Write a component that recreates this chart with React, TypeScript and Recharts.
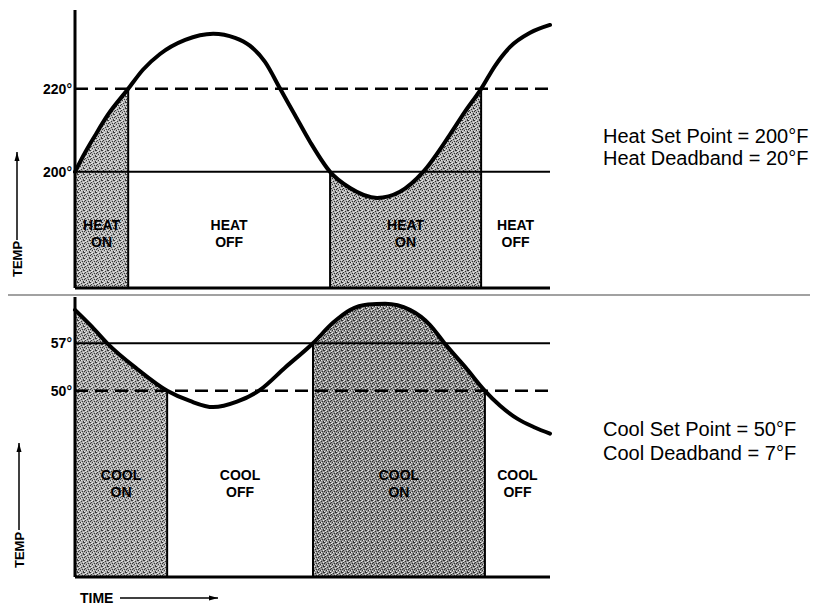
import React from 'react';
import { Area, ComposedChart, Line, ReferenceDot, ReferenceLine, XAxis, YAxis } from 'recharts';

// heating cycle (top panel): time runs 0..100, temperature in °F
const heatTime = [
  0, 2.1, 4.2, 6.9, 11.2, 14.3, 17.9, 23.2, 29.1, 33.7, 36.8, 40.0, 43.2, 46.3, 49.5, 53.7,
  57.9, 63.6, 68.4, 73.3, 78.9, 82.1, 85.5, 88.4, 91.6, 95.8, 100,
];
const heatTemp = [
  200, 204.6, 208.7, 213.7, 220, 224.6, 228.4, 231.8, 233.3, 232.3, 230.4, 226.5, 220, 213.7,
  207.2, 200, 196.1, 193.7, 195.2, 200, 208.9, 214.5, 220, 225.5, 230.1, 233.5, 235.4,
];
const heatSwitchTime = [11.2, 53.7, 85.5];
const heatSwitchTemp = [220, 200, 220];
const heatStates = [['HEAT', 'ON'], ['HEAT', 'OFF'], ['HEAT', 'ON'], ['HEAT', 'OFF']];
const heatTicks = [200, 220];
const heatNotes = ['Heat Set Point = 200°F', 'Heat Deadband = 20°F'];

// cooling cycle (bottom panel)
const coolTime = [
  0, 3.6, 6.9, 13.1, 19.4, 24.2, 29.1, 34.1, 38.9, 44.2, 50.1, 54.3, 57.9, 61.7, 65.3, 70.5,
  74.7, 77.9, 82.5, 86.3, 89.5, 93.1, 96.8, 100,
];
const coolTemp = [
  61.9, 59.4, 56.9, 53.2, 50, 48.5, 47.6, 48.4, 50.1, 53.4, 57, 60.0, 61.9, 62.7, 62.8, 61.9,
  59.7, 56.9, 53.2, 50, 47.8, 45.9, 44.6, 43.7,
];
const coolSwitchTime = [19.4, 50.1, 86.3];
const coolSwitchTemp = [50, 57, 50];
const coolStates = [['COOL', 'ON'], ['COOL', 'OFF'], ['COOL', 'ON'], ['COOL', 'OFF']];
const coolTicks = [50, 57];
const coolNotes = ['Cool Set Point = 50°F', 'Cool Deadband = 7°F'];

const FONT = '"Liberation Sans", Arial, Helvetica, sans-serif';

// halftone-ish speckle so the "on" regions look like the printed screen
const darkDots = [[0, 0], [3, 1], [1, 2], [4, 3], [2, 4], [5, 5], [0, 3], [5, 0]];
const lightDots = [[2, 0], [5, 2], [0, 5], [3, 4], [1, 1]];

function Speckle({ id, base, dot }: { id: string; base: string; dot: string }) {
  return (
    <pattern id={id} width={6} height={6} patternUnits="userSpaceOnUse">
      <rect width={6} height={6} fill={base} />
      {darkDots.map(([x, y]) => (
        <rect key={`d${x}${y}`} x={x} y={y} width={1} height={1} fill={dot} />
      ))}
      {lightDots.map(([x, y]) => (
        <rect key={`l${x}${y}`} x={x} y={y} width={1} height={1} fill="#e8e8e8" />
      ))}
    </pattern>
  );
}

type PanelProps = {
  id: string;
  time: number[];
  temp: number[];
  switchTime: number[];
  switchTemp: number[];
  states: string[][];
  ticks: number[];
  domain: [number, number];
  solidAt: number;
  dashedAt: number;
  labelTemp: number;
  shades: string[];
  top: number;
  marginTop: number;
  marginBottom: number;
};

function Panel(p: PanelProps) {
  const bounds = [0, ...p.switchTime, 100];
  const rows = p.time.map((t, i) => ({
    t,
    temp: p.temp[i],
    on0: t >= bounds[0] && t <= bounds[1] ? p.temp[i] : null,
    on1: t >= bounds[2] && t <= bounds[3] ? p.temp[i] : null,
  }));

  return (
    <div style={{ position: 'absolute', left: 0, top: p.top }}>
      <ComposedChart
        width={819}
        height={300}
        data={rows}
        margin={{ top: p.marginTop, right: 269, bottom: p.marginBottom, left: 15 }}
      >
        <defs>
          <Speckle id={`${p.id}-s0`} base={p.shades[0]} dot="#3a3a3a" />
          <Speckle id={`${p.id}-s1`} base={p.shades[1]} dot="#303030" />
        </defs>
        <XAxis
          dataKey="t"
          type="number"
          domain={[0, 100]}
          tick={false}
          tickLine={false}
          height={1}
          axisLine={{ stroke: '#000', strokeWidth: 3 }}
        />
        <YAxis
          type="number"
          domain={p.domain}
          ticks={p.ticks}
          width={60}
          tickSize={2}
          tickMargin={1}
          tickLine={false}
          axisLine={{ stroke: '#000', strokeWidth: 3 }}
          tickFormatter={(v) => `${v}°`}
          tick={{ fill: '#000', fontSize: 14, fontWeight: 700, fontFamily: FONT }}
        />
        <Area
          dataKey="on0"
          type="monotone"
          stroke="none"
          fill={`url(#${p.id}-s0)`}
          fillOpacity={1}
          dot={false}
          activeDot={false}
          isAnimationActive={false}
        />
        <Area
          dataKey="on1"
          type="monotone"
          stroke="none"
          fill={`url(#${p.id}-s1)`}
          fillOpacity={1}
          dot={false}
          activeDot={false}
          isAnimationActive={false}
        />
        <ReferenceLine y={p.solidAt} stroke="#000" strokeWidth={2} />
        <ReferenceLine y={p.dashedAt} stroke="#000" strokeWidth={2.5} strokeDasharray="13 7" />
        {p.switchTime.map((t, i) => (
          <ReferenceLine
            key={`sw${t}`}
            segment={[
              { x: t, y: p.domain[0] },
              { x: t, y: p.switchTemp[i] },
            ]}
            stroke="#000"
            strokeWidth={2}
          />
        ))}
        <Line
          dataKey="temp"
          type="monotone"
          stroke="#000"
          strokeWidth={4}
          strokeLinecap="round"
          dot={false}
          activeDot={false}
          isAnimationActive={false}
        />
        {p.states.map((lines, i) => (
          <ReferenceDot
            key={`st${i}`}
            x={(bounds[i] + bounds[i + 1]) / 2}
            y={p.labelTemp}
            r={0}
            shape={(s: any) => (
              <text
                x={s.cx}
                y={s.cy}
                textAnchor="middle"
                fontFamily={FONT}
                fontWeight={700}
                fontSize={14}
                fill="#000"
              >
                <tspan x={s.cx} dy={-2}>
                  {lines[0]}
                </tspan>
                <tspan x={s.cx} dy={17}>
                  {lines[1]}
                </tspan>
              </text>
            )}
          />
        ))}
      </ComposedChart>
    </div>
  );
}

function Arrow({ x1, y1, x2, y2 }: { x1: number; y1: number; x2: number; y2: number }) {
  const up = x1 === x2;
  const head = up
    ? `${x2},${y2} ${x2 - 2.5},${y2 + 9} ${x2 + 2.5},${y2 + 9}`
    : `${x2},${y2} ${x2 - 9},${y2 - 2.5} ${x2 - 9},${y2 + 2.5}`;
  return (
    <g>
      <line x1={x1} y1={y1} x2={x2} y2={y2} stroke="#000" strokeWidth={1.5} />
      <polygon points={head} fill="#000" />
    </g>
  );
}

export default function App() {
  return (
    <div
      style={{
        position: 'absolute',
        left: 0,
        top: 0,
        width: 819,
        height: 606,
        background: '#fff',
        overflow: 'hidden',
      }}
    >
      <Panel
        id="heat"
        time={heatTime}
        temp={heatTemp}
        switchTime={heatSwitchTime}
        switchTemp={heatSwitchTemp}
        states={heatStates}
        ticks={heatTicks}
        domain={[172, 239]}
        solidAt={200}
        dashedAt={220}
        labelTemp={185.5}
        shades={['#b6b6b6', '#b0b0b0']}
        top={0}
        marginTop={10}
        marginBottom={11}
      />
      <Panel
        id="cool"
        time={coolTime}
        temp={coolTemp}
        switchTime={coolSwitchTime}
        switchTemp={coolSwitchTemp}
        states={coolStates}
        ticks={coolTicks}
        domain={[22.6, 63.8]}
        solidAt={57}
        dashedAt={50}
        labelTemp={36.6}
        shades={['#acacac', '#939393']}
        top={290}
        marginTop={7}
        marginBottom={12}
      />
      <svg
        width={819}
        height={606}
        style={{ position: 'absolute', left: 0, top: 0, pointerEvents: 'none' }}
        fontFamily={FONT}
      >
        <line x1={8} y1={295} x2={810} y2={295} stroke="#444" strokeWidth={1.2} />
        <Arrow x1={17} y1={240} x2={17} y2={152} />
        <text
          transform="translate(21.5 259) rotate(-90)"
          textAnchor="middle"
          fontSize={13}
          fontWeight={700}
          fill="#000"
        >
          TEMP
        </text>
        <Arrow x1={19} y1={530} x2={19} y2={443} />
        <text
          transform="translate(23.5 550) rotate(-90)"
          textAnchor="middle"
          fontSize={13}
          fontWeight={700}
          fill="#000"
        >
          TEMP
        </text>
        <text x={80} y={603} fontSize={14} fontWeight={700} fill="#000">
          TIME
        </text>
        <Arrow x1={120} y1={598} x2={218} y2={598} />
        {heatNotes.map((s, i) => (
          <text key={s} x={603} y={143 + i * 22} fontSize={20} fill="#000">
            {s}
          </text>
        ))}
        {coolNotes.map((s, i) => (
          <text key={s} x={603} y={436 + i * 24} fontSize={20} fill="#000">
            {s}
          </text>
        ))}
      </svg>
    </div>
  );
}
